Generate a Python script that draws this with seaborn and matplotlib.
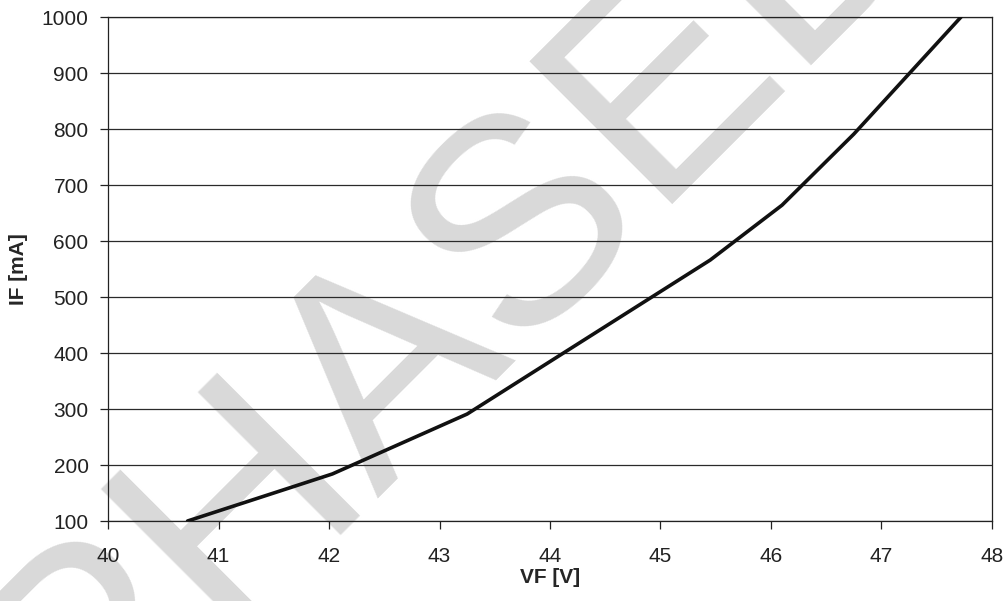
import matplotlib
matplotlib.use("Agg")
import matplotlib.pyplot as plt
import seaborn as sns

# data
vf = [40.72, 42.03, 43.25, 45.45, 46.10, 46.75, 47.72]
i_f = [100, 184, 291, 566, 664, 791, 1000]
x_ticks = [40, 41, 42, 43, 44, 45, 46, 47, 48]
y_ticks = [100, 200, 300, 400, 500, 600, 700, 800, 900, 1000]

sns.set_style("white")
plt.rcParams['font.family'] = ['Liberation Sans', 'DejaVu Sans']

fig = plt.figure(figsize=(10.04, 6.01), dpi=100)
ax = fig.add_axes([0.1076, 0.1331, 0.8804, 0.8386])
ax.set_facecolor('none')

# watermark behind everything
fig.text(0.0884, -0.311, "PHASED OUT", rotation=45, rotation_mode='anchor',
         ha='left', va='baseline', fontsize=212, color='#d9d9d9',
         family='Liberation Sans', zorder=-1)

sns.lineplot(x=vf, y=i_f, sort=False, estimator=None, color='#111111',
             linewidth=2.6, ax=ax, zorder=5)

ax.set_xlim(40, 48)
ax.set_ylim(100, 1000)
ax.set_xticks(x_ticks)
ax.set_yticks(y_ticks)
ax.yaxis.grid(True, color='#2a2a2a', linewidth=0.9)
ax.xaxis.grid(False)
for s in ax.spines.values():
    s.set_color('#222222')
    s.set_linewidth(0.9)

ax.tick_params(axis='x', bottom=True, length=5.5, width=0.9, pad=13, labelsize=15, colors='#222222')
ax.tick_params(axis='y', left=True, length=6, width=0.9, pad=8, labelsize=15, colors='#222222')

ax.set_xlabel('VF [V]', fontsize=15, weight='bold', labelpad=2)
ax.set_ylabel('IF [mA]', fontsize=15, weight='bold', labelpad=10)

fig.savefig('out.png', dpi=100)
